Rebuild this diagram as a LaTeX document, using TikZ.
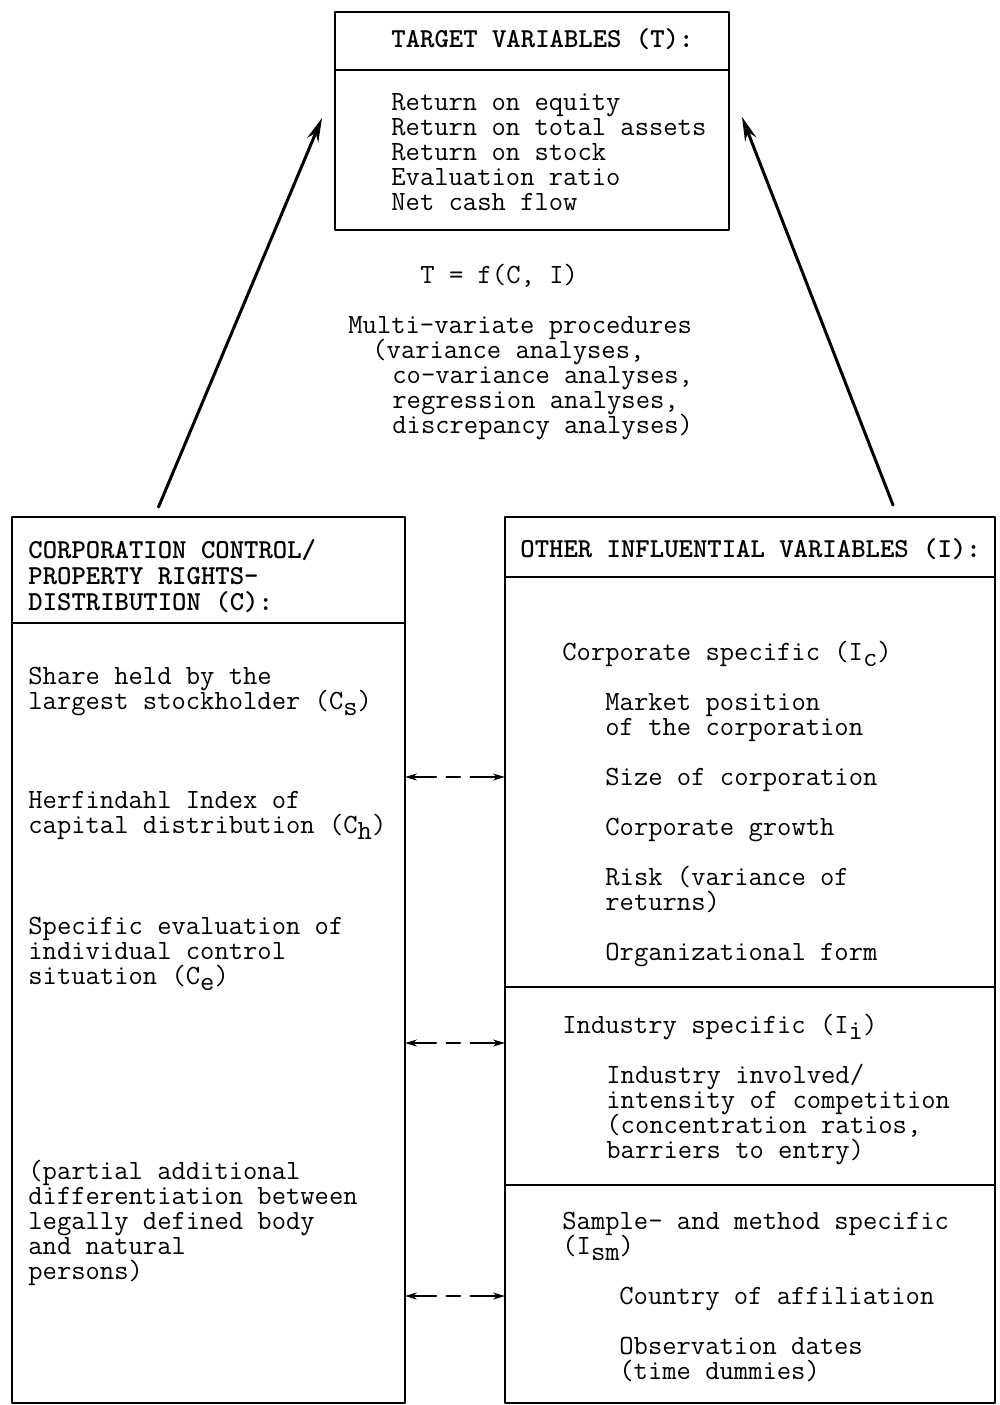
\documentclass[tikz,border=0pt]{standalone}
\usetikzlibrary{positioning,calc,arrows.meta}
\newcommand{\lowsub}[1]{\raisebox{-0.55ex}{#1}}
% keep a fixed line pitch, parentheses and subscripts included
\lineskiplimit=-20pt
\begin{document}
\begin{tikzpicture}[x=0.5pt,y=-0.5pt,line cap=round,line join=round,
    >={Stealth[length=6pt,width=3.5pt]},
    font=\fontsize{13.9pt}{12.5pt}\selectfont\ttfamily]
    % multi-line texts are placed by the baseline of their last line
    \tikzset{panel/.style={draw,line width=1.3pt,inner sep=0pt,outer sep=0pt},
             txt/.style={anchor=base west,align=left,inner sep=0pt},
             head/.style={txt,font=\fontsize{13.7pt}{13pt}\selectfont\ttfamily\bfseries},
             pull/.style={-{Stealth[length=12pt,width=6pt]},line width=1.5pt},
             link/.style={<->,line width=0.8pt,dash pattern=on 12pt off 5pt on 7pt off 5pt on 20pt}}
    \useasboundingbox (0,0) rectangle (1000,1405);

    % target variables
    \node[panel,anchor=north west,minimum width=197pt,minimum height=29pt] (Th) at (335,12) {};
    \node[panel,below=0pt of Th,minimum width=197pt,minimum height=80pt] (Tb) {};
    \node[head] (Tt) at (391,47) {TARGET VARIABLES (T):};
    \node[txt] (Tl) at (391,210) {Return on equity\\Return on total assets\\Return on stock\\Evaluation ratio\\Net cash flow};

    % function and procedures
    \node[txt] (fn) at (420,283) {T = f(C, I)};
    \node[txt] (proc) at (348,433) {Multi-variate procedures\\
        \hspace*{12pt}(variance analyses,\\
        \hspace*{22pt}co-variance analyses,\\
        \hspace*{22pt}regression analyses,\\
        \hspace*{22pt}discrepancy analyses)};

    % control / property rights box
    \node[panel,anchor=north west,minimum width=196.5pt,minimum height=53pt] (Ch) at (12,517) {};
    \node[panel,below=0pt of Ch,minimum width=196.5pt,minimum height=390pt] (Cb) {};
    \node[head] (Ct) at (28,610) {CORPORATION CONTROL/\\PROPERTY RIGHTS-\\DISTRIBUTION (C):};
    \node[txt] (Cs) at (28,709) {Share held by the\\largest stockholder (C\lowsub{s})};
    \node[txt] (Chi) at (28,833) {Herfindahl Index of\\capital distribution (C\lowsub{h})};
    \node[txt] (Ce) at (28,984) {Specific evaluation of\\individual control\\situation (C\lowsub{e})};
    \node[txt] (Cp) at (28,1279) {(partial additional\\differentiation between\\legally defined body\\and natural\\persons)};

    % other influential variables box
    \node[panel,anchor=north west,minimum width=245pt,minimum height=30pt] (Ih) at (505,517) {};
    \node[panel,below=0pt of Ih,minimum width=245pt,minimum height=205pt] (Ic) {};
    \node[panel,below=0pt of Ic,minimum width=245pt,minimum height=99pt] (Ii) {};
    \node[panel,below=0pt of Ii,minimum width=245pt,minimum height=109pt] (Ism) {};
    \node[head] (It) at (520,557) {OTHER INFLUENTIAL VARIABLES (I):};

    \node[txt] (Ict) at (562,660) {Corporate specific (I\lowsub{c})};
    \node[txt] (Icl) at (605,960) {Market position\\of the corporation\\[12.5pt]Size of corporation\\[12.5pt]Corporate growth\\[12.5pt]Risk (variance of\\returns)\\[12.5pt]Organizational form};

    \node[txt] (Iit) at (562,1033) {Industry specific (I\lowsub{i})};
    \node[txt] (Iil) at (606,1158) {Industry involved/\\intensity of competition\\(concentration ratios,\\barriers to entry)};

    \node[txt] (Ismt) at (562,1254) {Sample- and method specific\\(I\lowsub{sm})};
    \node[txt] (Isml) at (619,1379) {Country of affiliation\\[12.5pt]Observation dates\\(time dummies)};

    % arrows up to the targets
    \draw[pull] ($(Ch.north)+(-50,-10)$) -- ($(Tb.west)+(-13,-32)$);
    \draw[pull] ($(Ih.north)+(143,-12)$) -- ($(Tb.east)+(13,-33)$);

    % interdependence between C and I
    \coordinate (l1) at ($(Ic.north west)+(0,200)$);
    \coordinate (l2) at ($(Ii.north west)+(0,56)$);
    \coordinate (l3) at ($(Ism.north west)+(0,111)$);
    \foreach \p in {l1,l2,l3}
        \draw[link] (Cb.east |- \p) -- (\p);
\end{tikzpicture}
\end{document}
